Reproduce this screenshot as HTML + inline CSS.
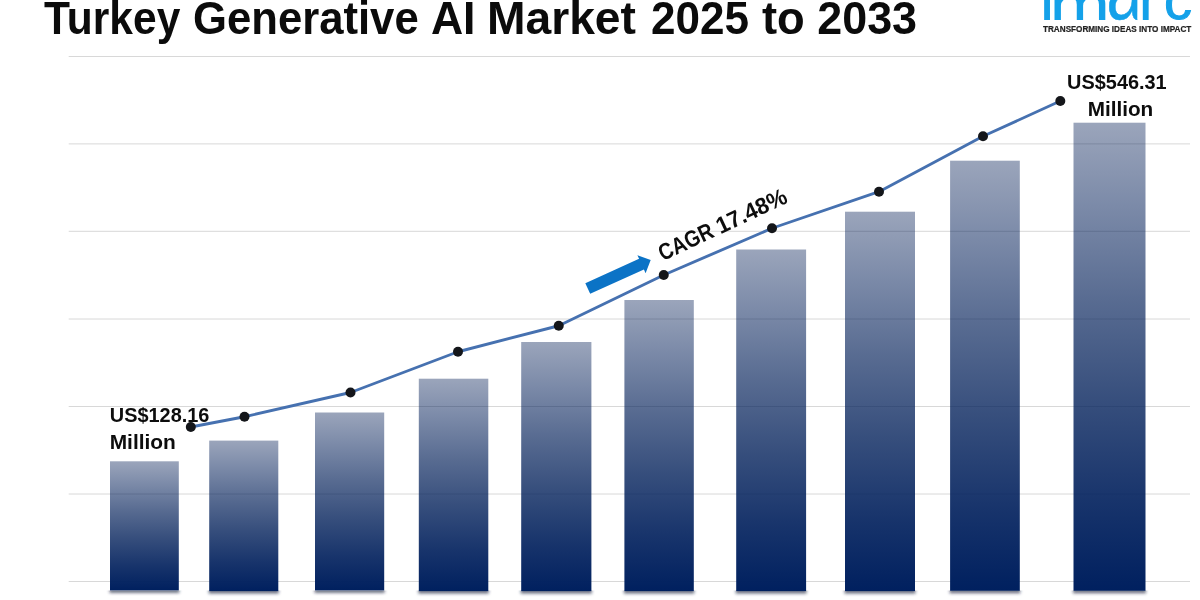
<!DOCTYPE html>
<html lang="en"><head><meta charset="utf-8"><title>Turkey Generative AI Market 2025 to 2033</title>
<style>
html,body{margin:0;padding:0;background:#fff;}
body{width:1200px;height:600px;overflow:hidden;position:relative;font-family:"Liberation Sans",sans-serif;}
svg{position:absolute;left:0;top:0;display:block;}
text{font-family:"Liberation Sans",sans-serif;font-weight:bold;}
.logo{position:absolute;left:0;top:0;width:1200px;height:0;color:#14a1e9;}
.logo span{position:absolute;top:20.25px;line-height:0;height:0;display:block;transform-origin:0 0;white-space:nowrap;}
</style></head><body>
<svg width="1200" height="600" viewBox="0 0 1200 600">
<defs>
<linearGradient id="bg" x1="0" y1="0" x2="0" y2="1">
<stop offset="0" stop-color="#0a2359" stop-opacity="0.41"/>
<stop offset="0.165" stop-color="#06225b" stop-opacity="0.52"/>
<stop offset="0.38" stop-color="#04215a" stop-opacity="0.665"/>
<stop offset="0.593" stop-color="#03215b" stop-opacity="0.795"/>
<stop offset="0.807" stop-color="#01205d" stop-opacity="0.91"/>
<stop offset="1" stop-color="#00205f" stop-opacity="1"/>
</linearGradient>
<filter id="blur" x="0" y="0" width="1200" height="600" filterUnits="userSpaceOnUse"><feGaussianBlur stdDeviation="1.7"/></filter>
<clipPath id="below"><rect x="0" y="590.4" width="1200" height="10"/></clipPath>
</defs>
<rect width="1200" height="600" fill="#ffffff"/>

<g stroke="#d8d8d8" stroke-width="1" fill="none">
<line x1="68.7" y1="56.5" x2="1190" y2="56.5"/>
<line x1="68.7" y1="143.9" x2="1190" y2="143.9"/>
<line x1="68.7" y1="231.3" x2="1190" y2="231.3"/>
<line x1="68.7" y1="319.0" x2="1190" y2="319.0"/>
<line x1="68.7" y1="406.5" x2="1190" y2="406.5"/>
<line x1="68.7" y1="494.0" x2="1190" y2="494.0"/>
<line x1="68.7" y1="581.5" x2="1190" y2="581.5"/>
</g>
<g clip-path="url(#below)" filter="url(#blur)" fill="#1a2440" fill-opacity="0.62">
<rect x="109.5" y="582.4" width="69.80" height="10.6"/>
<rect x="208.7" y="583.1" width="70.10" height="10.6"/>
<rect x="314.5" y="582.4" width="70.20" height="10.6"/>
<rect x="418.3" y="583.1" width="70.50" height="10.6"/>
<rect x="520.7" y="583.1" width="71.20" height="10.6"/>
<rect x="623.9" y="583.1" width="70.40" height="10.6"/>
<rect x="735.7" y="583.1" width="70.90" height="10.6"/>
<rect x="844.5" y="583.1" width="71.00" height="10.6"/>
<rect x="949.6" y="582.8" width="70.70" height="10.6"/>
<rect x="1073.0" y="582.8" width="73.00" height="10.6"/>
</g>
<g>
<rect x="110" y="461.3" width="68.80" height="129.10" fill="url(#bg)"/>
<rect x="209.2" y="440.6" width="69.10" height="150.50" fill="url(#bg)"/>
<rect x="315" y="412.5" width="69.20" height="177.90" fill="url(#bg)"/>
<rect x="418.8" y="378.7" width="69.50" height="212.40" fill="url(#bg)"/>
<rect x="521.2" y="342" width="70.20" height="249.10" fill="url(#bg)"/>
<rect x="624.4" y="300" width="69.40" height="291.10" fill="url(#bg)"/>
<rect x="736.2" y="249.5" width="69.90" height="341.60" fill="url(#bg)"/>
<rect x="845" y="211.7" width="70.00" height="379.40" fill="url(#bg)"/>
<rect x="950.1" y="160.7" width="69.70" height="430.10" fill="url(#bg)"/>
<rect x="1073.5" y="122.7" width="72.00" height="468.10" fill="url(#bg)"/>
</g>
<polyline points="190.8,427 244.5,416.75 350.5,392.5 458,351.75 558.75,325.75 663.75,275 772,228.25 879,191.7 983,136.3 1060.3,101" fill="none" stroke="#4671b0" stroke-width="2.9" stroke-linejoin="round"/>
<g fill="#14161a">
<circle cx="190.8" cy="427" r="5"/>
<circle cx="244.5" cy="416.75" r="5"/>
<circle cx="350.5" cy="392.5" r="5"/>
<circle cx="458" cy="351.75" r="5"/>
<circle cx="558.75" cy="325.75" r="5"/>
<circle cx="663.75" cy="275" r="5"/>
<circle cx="772" cy="228.25" r="5"/>
<circle cx="879" cy="191.7" r="5"/>
<circle cx="983" cy="136.3" r="5"/>
<circle cx="1060.3" cy="101" r="5"/>
</g>
<g transform="translate(587.75,288.5) rotate(-24.36)"><polygon points="0,-5.9 59,-5.9 59,-9.9 69.1,0 59,9.9 59,5.9 0,5.9" fill="#0b73c6"/></g>
<text transform="translate(662.8,261.2) rotate(-25.1)" font-size="23.2" fill="#0d0d0d"><tspan x="0" textLength="58.1" lengthAdjust="spacingAndGlyphs">CAGR</tspan> <tspan x="63.7" textLength="75.6" lengthAdjust="spacingAndGlyphs">17.48%</tspan></text>
<text y="33.8" font-size="45.3" fill="#0b0b0b"><tspan x="44.0" textLength="136.3" lengthAdjust="spacingAndGlyphs">Turkey</tspan> <tspan x="192.99" textLength="225.7" lengthAdjust="spacingAndGlyphs">Generative</tspan> <tspan x="430.91" textLength="44.59" lengthAdjust="spacingAndGlyphs">AI</tspan> <tspan x="486.94" textLength="149.06" lengthAdjust="spacingAndGlyphs">Market</tspan> <tspan x="650.98" textLength="98.04" lengthAdjust="spacingAndGlyphs">2025</tspan> <tspan x="762.0" textLength="42.75" lengthAdjust="spacingAndGlyphs">to</tspan> <tspan x="817.28" textLength="99.79" lengthAdjust="spacingAndGlyphs">2033</tspan></text>
<text x="109.8" y="421.5" font-size="19.8" fill="#0d0d0d" textLength="99.6" lengthAdjust="spacingAndGlyphs">US$128.16</text>
<text x="109.7" y="448.5" font-size="19.8" fill="#0d0d0d" textLength="66.2" lengthAdjust="spacingAndGlyphs">Million</text>
<text x="1067.1" y="88.5" font-size="19.8" fill="#0d0d0d" textLength="99.6" lengthAdjust="spacingAndGlyphs">US$546.31</text>
<text x="1087.7" y="115.5" font-size="19.8" fill="#0d0d0d" textLength="65.6" lengthAdjust="spacingAndGlyphs">Million</text>
<text x="1043" y="31.7" font-size="8.7" fill="#222" stroke="#222" stroke-width="0.2" textLength="148.3" lengthAdjust="spacingAndGlyphs">TRANSFORMING IDEAS INTO IMPACT</text>
</svg>
<div class="logo"><span style="left:1039.78px;font-size:66px;font-weight:normal;transform:scale(1,1) translateY(-0.3465em)">i</span><span style="left:1049.60px;font-size:72.75px;font-weight:normal;transform:scale(1,0.63) translateY(-0.3465em)">m</span><span style="left:1106.38px;font-size:65.5px;font-weight:normal;-webkit-text-stroke:0.5px #14a1e9;clip-path:inset(-200px 5.52px -200px -10px);transform:scale(1,1.27) translateY(-0.3465em)">a</span><span style="left:1138.24px;font-size:66px;font-weight:normal;transform:scale(1,1) translateY(-0.3465em)">r</span><span style="left:1164.24px;font-size:51px;font-weight:normal;-webkit-text-stroke:0.9px #14a1e9;top:20.45px;transform:scale(1.1,1.0) translateY(-0.3465em)">c</span></div>
</body></html>
